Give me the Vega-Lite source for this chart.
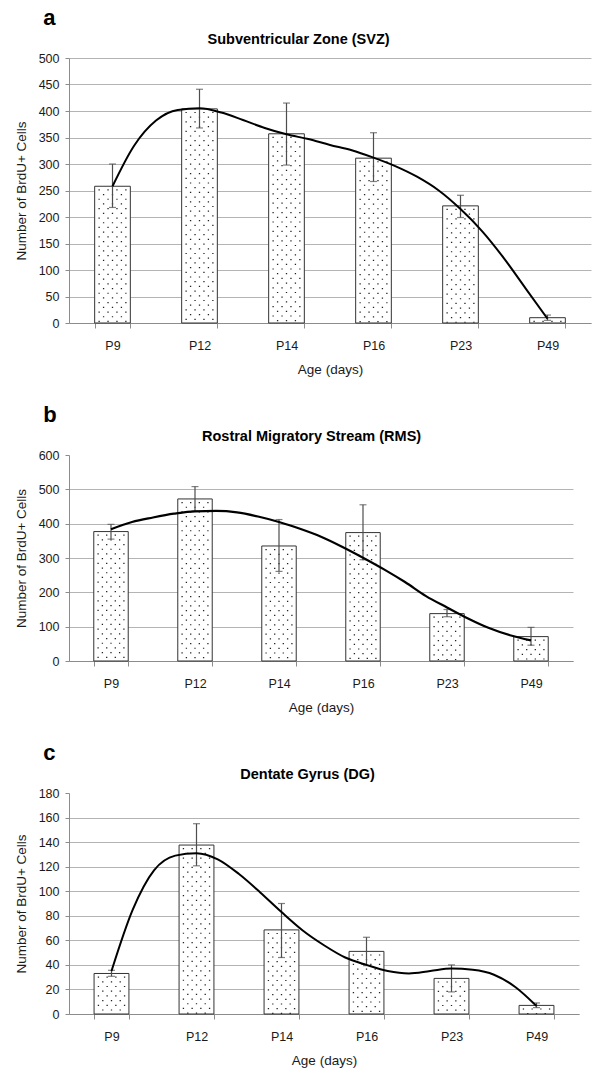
{
  "$schema": "https://vega.github.io/schema/vega-lite/v6.json",
  "background": "white",
  "padding": {"left": 14, "top": 6, "right": 4, "bottom": 4},
  "spacing": 27,
  "config": {
    "font": "Liberation Sans, Arial, sans-serif",
    "view": {"stroke": null},
    "axis": {
      "labelFont": "Liberation Sans, Arial, sans-serif",
      "titleFont": "Liberation Sans, Arial, sans-serif",
      "labelFontSize": 12.5,
      "labelColor": "#1a1a1a",
      "labelOverlap": false,
      "labelBound": false,
      "titleFontSize": 13.5,
      "titleFontWeight": "normal",
      "titleColor": "#1a1a1a",
      "domainColor": "#8c8c8c",
      "tickColor": "#8c8c8c",
      "gridColor": "#b4b4b4"
    },
    "axisX": {"tickSize": 5, "labelPadding": 11, "titlePadding": 11, "labelAngle": 0, "tickBand": "extent", "grid": false},
    "axisY": {"tickSize": 4, "labelPadding": 6, "titlePadding": 10, "grid": true},
    "title": {"font": "Liberation Sans, Arial, sans-serif", "color": "#000"}
  },
  "datasets": {
    "svz": [
      {"age": "P9", "count": 258, "lo": 218, "hi": 300},
      {"age": "P12", "count": 404, "lo": 368, "hi": 441},
      {"age": "P14", "count": 357, "lo": 298, "hi": 415},
      {"age": "P16", "count": 311, "lo": 267, "hi": 359},
      {"age": "P23", "count": 221, "lo": 199, "hi": 241},
      {"age": "P49", "count": 10, "lo": 5, "hi": 15}
    ],
    "svz_fit": [
      {"pos": 0.5, "value": 258}, {"pos": 0.75, "value": 335}, {"pos": 1.0, "value": 382},
      {"pos": 1.25, "value": 402}, {"pos": 1.5, "value": 405}, {"pos": 1.75, "value": 397},
      {"pos": 2.0, "value": 383}, {"pos": 2.25, "value": 368}, {"pos": 2.5, "value": 356},
      {"pos": 2.75, "value": 347}, {"pos": 3.0, "value": 336}, {"pos": 3.25, "value": 326},
      {"pos": 3.5, "value": 312}, {"pos": 3.75, "value": 296}, {"pos": 4.0, "value": 276},
      {"pos": 4.25, "value": 250}, {"pos": 4.5, "value": 215}, {"pos": 4.75, "value": 173},
      {"pos": 5.0, "value": 122}, {"pos": 5.25, "value": 65}, {"pos": 5.5, "value": 8}
    ],
    "rms": [
      {"age": "P9", "count": 377, "lo": 355, "hi": 398},
      {"age": "P12", "count": 472, "lo": 437, "hi": 508},
      {"age": "P14", "count": 335, "lo": 261, "hi": 412},
      {"age": "P16", "count": 374, "lo": 295, "hi": 455},
      {"age": "P23", "count": 138, "lo": 129, "hi": 150},
      {"age": "P49", "count": 71, "lo": 46, "hi": 98}
    ],
    "rms_fit": [
      {"pos": 0.5, "value": 384}, {"pos": 0.75, "value": 405}, {"pos": 1.0, "value": 418},
      {"pos": 1.25, "value": 429}, {"pos": 1.5, "value": 436}, {"pos": 1.75, "value": 437},
      {"pos": 2.0, "value": 433}, {"pos": 2.25, "value": 421}, {"pos": 2.5, "value": 405},
      {"pos": 2.75, "value": 385}, {"pos": 3.0, "value": 362}, {"pos": 3.25, "value": 333},
      {"pos": 3.5, "value": 301}, {"pos": 3.75, "value": 267}, {"pos": 4.0, "value": 230},
      {"pos": 4.25, "value": 189}, {"pos": 4.5, "value": 156}, {"pos": 4.75, "value": 124},
      {"pos": 5.0, "value": 96}, {"pos": 5.25, "value": 75}, {"pos": 5.5, "value": 60}
    ],
    "dg": [
      {"age": "P9", "count": 33, "lo": 30.7, "hi": 35.6},
      {"age": "P12", "count": 137.6, "lo": 120.7, "hi": 155},
      {"age": "P14", "count": 68.5, "lo": 46, "hi": 90},
      {"age": "P16", "count": 51, "lo": 39.4, "hi": 62.5},
      {"age": "P23", "count": 29, "lo": 18, "hi": 40},
      {"age": "P49", "count": 7, "lo": 5.2, "hi": 9}
    ],
    "dg_fit": [
      {"pos": 0.5, "value": 35}, {"pos": 0.75, "value": 85}, {"pos": 1.0, "value": 117},
      {"pos": 1.25, "value": 129}, {"pos": 1.5, "value": 131}, {"pos": 1.75, "value": 126},
      {"pos": 2.0, "value": 114}, {"pos": 2.25, "value": 99}, {"pos": 2.5, "value": 83},
      {"pos": 2.75, "value": 68}, {"pos": 3.0, "value": 56}, {"pos": 3.25, "value": 46},
      {"pos": 3.5, "value": 40}, {"pos": 3.75, "value": 35}, {"pos": 4.0, "value": 33},
      {"pos": 4.25, "value": 35}, {"pos": 4.5, "value": 37}, {"pos": 4.75, "value": 36},
      {"pos": 5.0, "value": 32}, {"pos": 5.25, "value": 22}, {"pos": 5.5, "value": 6.5}
    ]
  },
  "vconcat": [
    {
      "title": {"text": "a", "anchor": "start", "frame": "bounds", "fontSize": 22, "fontWeight": "bold", "dx": 29, "offset": 2},
      "vconcat": [
        {
          "width": 522,
          "height": 265,
          "title": {"text": "Subventricular Zone (SVZ)", "anchor": "middle", "frame": "bounds", "fontSize": 14.5, "fontWeight": "bold", "offset": 5, "dx": -4},
          "layer": [
            {
              "data": {"name": "svz"},
              "encoding": {
                "x": {"field": "age", "type": "nominal", "sort": null, "scale": {"paddingInner": 0.59, "paddingOuter": 0.295}, "axis": {"title": "Age (days)"}}
              },
              "layer": [
                {"mark": {"type": "bar", "fill": "#ffffff", "stroke": "#333333", "strokeWidth": 1},
                 "encoding": {"y": {"field": "count", "type": "quantitative", "scale": {"domain": [0, 500], "nice": false}, "axis": {"title": "Number of BrdU+ Cells", "values": [0, 50, 100, 150, 200, 250, 300, 350, 400, 450, 500]}}}},
                {"mark": {"type": "rule", "color": "#222", "strokeWidth": 1.3, "strokeDash": [1.2, 8.2], "strokeDashOffset": -3}, "encoding": {"x": {"field": "age", "type": "nominal", "sort": null, "bandPosition": 0.125}, "y": {"field": "count", "type": "quantitative", "axis": {"title": "Number of BrdU+ Cells", "values": [0, 50, 100, 150, 200, 250, 300, 350, 400, 450, 500]}}, "y2": {"datum": 0}}},
                {"mark": {"type": "rule", "color": "#222", "strokeWidth": 1.3, "strokeDash": [1.2, 8.2], "strokeDashOffset": -7.7}, "encoding": {"x": {"field": "age", "type": "nominal", "sort": null, "bandPosition": 0.25}, "y": {"field": "count", "type": "quantitative", "axis": {"title": "Number of BrdU+ Cells", "values": [0, 50, 100, 150, 200, 250, 300, 350, 400, 450, 500]}}, "y2": {"datum": 0}}},
                {"mark": {"type": "rule", "color": "#222", "strokeWidth": 1.3, "strokeDash": [1.2, 8.2], "strokeDashOffset": -3}, "encoding": {"x": {"field": "age", "type": "nominal", "sort": null, "bandPosition": 0.375}, "y": {"field": "count", "type": "quantitative", "axis": {"title": "Number of BrdU+ Cells", "values": [0, 50, 100, 150, 200, 250, 300, 350, 400, 450, 500]}}, "y2": {"datum": 0}}},
                {"mark": {"type": "rule", "color": "#222", "strokeWidth": 1.3, "strokeDash": [1.2, 8.2], "strokeDashOffset": -7.7}, "encoding": {"x": {"field": "age", "type": "nominal", "sort": null, "bandPosition": 0.5}, "y": {"field": "count", "type": "quantitative", "axis": {"title": "Number of BrdU+ Cells", "values": [0, 50, 100, 150, 200, 250, 300, 350, 400, 450, 500]}}, "y2": {"datum": 0}}},
                {"mark": {"type": "rule", "color": "#222", "strokeWidth": 1.3, "strokeDash": [1.2, 8.2], "strokeDashOffset": -3}, "encoding": {"x": {"field": "age", "type": "nominal", "sort": null, "bandPosition": 0.625}, "y": {"field": "count", "type": "quantitative", "axis": {"title": "Number of BrdU+ Cells", "values": [0, 50, 100, 150, 200, 250, 300, 350, 400, 450, 500]}}, "y2": {"datum": 0}}},
                {"mark": {"type": "rule", "color": "#222", "strokeWidth": 1.3, "strokeDash": [1.2, 8.2], "strokeDashOffset": -7.7}, "encoding": {"x": {"field": "age", "type": "nominal", "sort": null, "bandPosition": 0.75}, "y": {"field": "count", "type": "quantitative", "axis": {"title": "Number of BrdU+ Cells", "values": [0, 50, 100, 150, 200, 250, 300, 350, 400, 450, 500]}}, "y2": {"datum": 0}}},
                {"mark": {"type": "rule", "color": "#222", "strokeWidth": 1.3, "strokeDash": [1.2, 8.2], "strokeDashOffset": -3}, "encoding": {"x": {"field": "age", "type": "nominal", "sort": null, "bandPosition": 0.875}, "y": {"field": "count", "type": "quantitative", "axis": {"title": "Number of BrdU+ Cells", "values": [0, 50, 100, 150, 200, 250, 300, 350, 400, 450, 500]}}, "y2": {"datum": 0}}},
                {"mark": {"type": "rule", "color": "#4d4d4d", "strokeWidth": 1.2}, "encoding": {"y": {"field": "lo", "type": "quantitative", "axis": {"title": "Number of BrdU+ Cells", "values": [0, 50, 100, 150, 200, 250, 300, 350, 400, 450, 500]}}, "y2": {"field": "hi"}}},
                {"mark": {"type": "tick", "color": "#4d4d4d", "size": 7, "thickness": 1.2, "orient": "horizontal"}, "encoding": {"y": {"field": "lo", "type": "quantitative", "axis": {"title": "Number of BrdU+ Cells", "values": [0, 50, 100, 150, 200, 250, 300, 350, 400, 450, 500]}}}},
                {"mark": {"type": "tick", "color": "#4d4d4d", "size": 7, "thickness": 1.2, "orient": "horizontal"}, "encoding": {"y": {"field": "hi", "type": "quantitative", "axis": {"title": "Number of BrdU+ Cells", "values": [0, 50, 100, 150, 200, 250, 300, 350, 400, 450, 500]}}}}
              ]
            },
            {
              "data": {"name": "svz_fit"},
              "mark": {"type": "line", "interpolate": "monotone", "color": "#000", "strokeWidth": 2},
              "encoding": {
                "x": {"field": "pos", "type": "quantitative", "scale": {"domain": [0, 6], "nice": false, "zero": false}, "axis": null},
                "y": {"field": "value", "type": "quantitative", "axis": {"title": "Number of BrdU+ Cells", "values": [0, 50, 100, 150, 200, 250, 300, 350, 400, 450, 500]}}
              }
            }
          ],
          "resolve": {"scale": {"x": "independent"}}
        }
      ]
    },
    {
      "title": {"text": "b", "anchor": "start", "frame": "bounds", "fontSize": 22, "fontWeight": "bold", "dx": 29, "offset": 2},
      "vconcat": [
        {
          "width": 504,
          "height": 206,
          "title": {"text": "Rostral Migratory Stream (RMS)", "anchor": "middle", "frame": "bounds", "fontSize": 14.5, "fontWeight": "bold", "offset": 5, "dx": 18},
          "layer": [
            {
              "data": {"name": "rms"},
              "encoding": {
                "x": {"field": "age", "type": "nominal", "sort": null, "scale": {"paddingInner": 0.59, "paddingOuter": 0.295}, "axis": {"title": "Age (days)"}}
              },
              "layer": [
                {"mark": {"type": "bar", "fill": "#ffffff", "stroke": "#333333", "strokeWidth": 1},
                 "encoding": {"y": {"field": "count", "type": "quantitative", "scale": {"domain": [0, 600], "nice": false}, "axis": {"title": "Number of BrdU+ Cells", "values": [0, 100, 200, 300, 400, 500, 600], "gridOpacity": {"condition": {"test": "datum.value >= 600", "value": 0}, "value": 1}}}}},
                {"mark": {"type": "rule", "color": "#222", "strokeWidth": 1.3, "strokeDash": [1.2, 8.2], "strokeDashOffset": -3}, "encoding": {"x": {"field": "age", "type": "nominal", "sort": null, "bandPosition": 0.125}, "y": {"field": "count", "type": "quantitative", "axis": {"title": "Number of BrdU+ Cells", "values": [0, 100, 200, 300, 400, 500, 600], "gridOpacity": {"condition": {"test": "datum.value >= 600", "value": 0}, "value": 1}}}, "y2": {"datum": 0}}},
                {"mark": {"type": "rule", "color": "#222", "strokeWidth": 1.3, "strokeDash": [1.2, 8.2], "strokeDashOffset": -7.7}, "encoding": {"x": {"field": "age", "type": "nominal", "sort": null, "bandPosition": 0.25}, "y": {"field": "count", "type": "quantitative", "axis": {"title": "Number of BrdU+ Cells", "values": [0, 100, 200, 300, 400, 500, 600], "gridOpacity": {"condition": {"test": "datum.value >= 600", "value": 0}, "value": 1}}}, "y2": {"datum": 0}}},
                {"mark": {"type": "rule", "color": "#222", "strokeWidth": 1.3, "strokeDash": [1.2, 8.2], "strokeDashOffset": -3}, "encoding": {"x": {"field": "age", "type": "nominal", "sort": null, "bandPosition": 0.375}, "y": {"field": "count", "type": "quantitative", "axis": {"title": "Number of BrdU+ Cells", "values": [0, 100, 200, 300, 400, 500, 600], "gridOpacity": {"condition": {"test": "datum.value >= 600", "value": 0}, "value": 1}}}, "y2": {"datum": 0}}},
                {"mark": {"type": "rule", "color": "#222", "strokeWidth": 1.3, "strokeDash": [1.2, 8.2], "strokeDashOffset": -7.7}, "encoding": {"x": {"field": "age", "type": "nominal", "sort": null, "bandPosition": 0.5}, "y": {"field": "count", "type": "quantitative", "axis": {"title": "Number of BrdU+ Cells", "values": [0, 100, 200, 300, 400, 500, 600], "gridOpacity": {"condition": {"test": "datum.value >= 600", "value": 0}, "value": 1}}}, "y2": {"datum": 0}}},
                {"mark": {"type": "rule", "color": "#222", "strokeWidth": 1.3, "strokeDash": [1.2, 8.2], "strokeDashOffset": -3}, "encoding": {"x": {"field": "age", "type": "nominal", "sort": null, "bandPosition": 0.625}, "y": {"field": "count", "type": "quantitative", "axis": {"title": "Number of BrdU+ Cells", "values": [0, 100, 200, 300, 400, 500, 600], "gridOpacity": {"condition": {"test": "datum.value >= 600", "value": 0}, "value": 1}}}, "y2": {"datum": 0}}},
                {"mark": {"type": "rule", "color": "#222", "strokeWidth": 1.3, "strokeDash": [1.2, 8.2], "strokeDashOffset": -7.7}, "encoding": {"x": {"field": "age", "type": "nominal", "sort": null, "bandPosition": 0.75}, "y": {"field": "count", "type": "quantitative", "axis": {"title": "Number of BrdU+ Cells", "values": [0, 100, 200, 300, 400, 500, 600], "gridOpacity": {"condition": {"test": "datum.value >= 600", "value": 0}, "value": 1}}}, "y2": {"datum": 0}}},
                {"mark": {"type": "rule", "color": "#222", "strokeWidth": 1.3, "strokeDash": [1.2, 8.2], "strokeDashOffset": -3}, "encoding": {"x": {"field": "age", "type": "nominal", "sort": null, "bandPosition": 0.875}, "y": {"field": "count", "type": "quantitative", "axis": {"title": "Number of BrdU+ Cells", "values": [0, 100, 200, 300, 400, 500, 600], "gridOpacity": {"condition": {"test": "datum.value >= 600", "value": 0}, "value": 1}}}, "y2": {"datum": 0}}},
                {"mark": {"type": "rule", "color": "#4d4d4d", "strokeWidth": 1.2}, "encoding": {"y": {"field": "lo", "type": "quantitative", "axis": {"title": "Number of BrdU+ Cells", "values": [0, 100, 200, 300, 400, 500, 600], "gridOpacity": {"condition": {"test": "datum.value >= 600", "value": 0}, "value": 1}}}, "y2": {"field": "hi"}}},
                {"mark": {"type": "tick", "color": "#4d4d4d", "size": 7, "thickness": 1.2, "orient": "horizontal"}, "encoding": {"y": {"field": "lo", "type": "quantitative", "axis": {"title": "Number of BrdU+ Cells", "values": [0, 100, 200, 300, 400, 500, 600], "gridOpacity": {"condition": {"test": "datum.value >= 600", "value": 0}, "value": 1}}}}},
                {"mark": {"type": "tick", "color": "#4d4d4d", "size": 7, "thickness": 1.2, "orient": "horizontal"}, "encoding": {"y": {"field": "hi", "type": "quantitative", "axis": {"title": "Number of BrdU+ Cells", "values": [0, 100, 200, 300, 400, 500, 600], "gridOpacity": {"condition": {"test": "datum.value >= 600", "value": 0}, "value": 1}}}}}
              ]
            },
            {
              "data": {"name": "rms_fit"},
              "mark": {"type": "line", "interpolate": "monotone", "color": "#000", "strokeWidth": 2.2},
              "encoding": {
                "x": {"field": "pos", "type": "quantitative", "scale": {"domain": [0, 6], "nice": false, "zero": false}, "axis": null},
                "y": {"field": "value", "type": "quantitative", "axis": {"title": "Number of BrdU+ Cells", "values": [0, 100, 200, 300, 400, 500, 600], "gridOpacity": {"condition": {"test": "datum.value >= 600", "value": 0}, "value": 1}}}
              }
            }
          ],
          "resolve": {"scale": {"x": "independent"}}
        }
      ]
    },
    {
      "title": {"text": "c", "anchor": "start", "frame": "bounds", "fontSize": 22, "fontWeight": "bold", "dx": 29, "offset": 2},
      "vconcat": [
        {
          "width": 510,
          "height": 221,
          "title": {"text": "Dentate Gyrus (DG)", "anchor": "middle", "frame": "bounds", "fontSize": 14.5, "fontWeight": "bold", "offset": 5, "dx": 11},
          "layer": [
            {
              "data": {"name": "dg"},
              "encoding": {
                "x": {"field": "age", "type": "nominal", "sort": null, "scale": {"paddingInner": 0.59, "paddingOuter": 0.295}, "axis": {"title": "Age (days)"}}
              },
              "layer": [
                {"mark": {"type": "bar", "fill": "#ffffff", "stroke": "#333333", "strokeWidth": 1},
                 "encoding": {"y": {"field": "count", "type": "quantitative", "scale": {"domain": [0, 180], "nice": false}, "axis": {"title": "Number of BrdU+ Cells", "values": [0, 20, 40, 60, 80, 100, 120, 140, 160, 180], "gridOpacity": {"condition": {"test": "datum.value >= 180", "value": 0}, "value": 1}}}}},
                {"mark": {"type": "rule", "color": "#222", "strokeWidth": 1.3, "strokeDash": [1.2, 8.2], "strokeDashOffset": -3}, "encoding": {"x": {"field": "age", "type": "nominal", "sort": null, "bandPosition": 0.125}, "y": {"field": "count", "type": "quantitative", "axis": {"title": "Number of BrdU+ Cells", "values": [0, 20, 40, 60, 80, 100, 120, 140, 160, 180], "gridOpacity": {"condition": {"test": "datum.value >= 180", "value": 0}, "value": 1}}}, "y2": {"datum": 0}}},
                {"mark": {"type": "rule", "color": "#222", "strokeWidth": 1.3, "strokeDash": [1.2, 8.2], "strokeDashOffset": -7.7}, "encoding": {"x": {"field": "age", "type": "nominal", "sort": null, "bandPosition": 0.25}, "y": {"field": "count", "type": "quantitative", "axis": {"title": "Number of BrdU+ Cells", "values": [0, 20, 40, 60, 80, 100, 120, 140, 160, 180], "gridOpacity": {"condition": {"test": "datum.value >= 180", "value": 0}, "value": 1}}}, "y2": {"datum": 0}}},
                {"mark": {"type": "rule", "color": "#222", "strokeWidth": 1.3, "strokeDash": [1.2, 8.2], "strokeDashOffset": -3}, "encoding": {"x": {"field": "age", "type": "nominal", "sort": null, "bandPosition": 0.375}, "y": {"field": "count", "type": "quantitative", "axis": {"title": "Number of BrdU+ Cells", "values": [0, 20, 40, 60, 80, 100, 120, 140, 160, 180], "gridOpacity": {"condition": {"test": "datum.value >= 180", "value": 0}, "value": 1}}}, "y2": {"datum": 0}}},
                {"mark": {"type": "rule", "color": "#222", "strokeWidth": 1.3, "strokeDash": [1.2, 8.2], "strokeDashOffset": -7.7}, "encoding": {"x": {"field": "age", "type": "nominal", "sort": null, "bandPosition": 0.5}, "y": {"field": "count", "type": "quantitative", "axis": {"title": "Number of BrdU+ Cells", "values": [0, 20, 40, 60, 80, 100, 120, 140, 160, 180], "gridOpacity": {"condition": {"test": "datum.value >= 180", "value": 0}, "value": 1}}}, "y2": {"datum": 0}}},
                {"mark": {"type": "rule", "color": "#222", "strokeWidth": 1.3, "strokeDash": [1.2, 8.2], "strokeDashOffset": -3}, "encoding": {"x": {"field": "age", "type": "nominal", "sort": null, "bandPosition": 0.625}, "y": {"field": "count", "type": "quantitative", "axis": {"title": "Number of BrdU+ Cells", "values": [0, 20, 40, 60, 80, 100, 120, 140, 160, 180], "gridOpacity": {"condition": {"test": "datum.value >= 180", "value": 0}, "value": 1}}}, "y2": {"datum": 0}}},
                {"mark": {"type": "rule", "color": "#222", "strokeWidth": 1.3, "strokeDash": [1.2, 8.2], "strokeDashOffset": -7.7}, "encoding": {"x": {"field": "age", "type": "nominal", "sort": null, "bandPosition": 0.75}, "y": {"field": "count", "type": "quantitative", "axis": {"title": "Number of BrdU+ Cells", "values": [0, 20, 40, 60, 80, 100, 120, 140, 160, 180], "gridOpacity": {"condition": {"test": "datum.value >= 180", "value": 0}, "value": 1}}}, "y2": {"datum": 0}}},
                {"mark": {"type": "rule", "color": "#222", "strokeWidth": 1.3, "strokeDash": [1.2, 8.2], "strokeDashOffset": -3}, "encoding": {"x": {"field": "age", "type": "nominal", "sort": null, "bandPosition": 0.875}, "y": {"field": "count", "type": "quantitative", "axis": {"title": "Number of BrdU+ Cells", "values": [0, 20, 40, 60, 80, 100, 120, 140, 160, 180], "gridOpacity": {"condition": {"test": "datum.value >= 180", "value": 0}, "value": 1}}}, "y2": {"datum": 0}}},
                {"mark": {"type": "rule", "color": "#4d4d4d", "strokeWidth": 1.2}, "encoding": {"y": {"field": "lo", "type": "quantitative", "axis": {"title": "Number of BrdU+ Cells", "values": [0, 20, 40, 60, 80, 100, 120, 140, 160, 180], "gridOpacity": {"condition": {"test": "datum.value >= 180", "value": 0}, "value": 1}}}, "y2": {"field": "hi"}}},
                {"mark": {"type": "tick", "color": "#4d4d4d", "size": 7, "thickness": 1.2, "orient": "horizontal"}, "encoding": {"y": {"field": "lo", "type": "quantitative", "axis": {"title": "Number of BrdU+ Cells", "values": [0, 20, 40, 60, 80, 100, 120, 140, 160, 180], "gridOpacity": {"condition": {"test": "datum.value >= 180", "value": 0}, "value": 1}}}}},
                {"mark": {"type": "tick", "color": "#4d4d4d", "size": 7, "thickness": 1.2, "orient": "horizontal"}, "encoding": {"y": {"field": "hi", "type": "quantitative", "axis": {"title": "Number of BrdU+ Cells", "values": [0, 20, 40, 60, 80, 100, 120, 140, 160, 180], "gridOpacity": {"condition": {"test": "datum.value >= 180", "value": 0}, "value": 1}}}}}
              ]
            },
            {
              "data": {"name": "dg_fit"},
              "mark": {"type": "line", "interpolate": "monotone", "color": "#000", "strokeWidth": 2},
              "encoding": {
                "x": {"field": "pos", "type": "quantitative", "scale": {"domain": [0, 6], "nice": false, "zero": false}, "axis": null},
                "y": {"field": "value", "type": "quantitative", "axis": {"title": "Number of BrdU+ Cells", "values": [0, 20, 40, 60, 80, 100, 120, 140, 160, 180], "gridOpacity": {"condition": {"test": "datum.value >= 180", "value": 0}, "value": 1}}}
              }
            }
          ],
          "resolve": {"scale": {"x": "independent"}}
        }
      ]
    }
  ]
}
